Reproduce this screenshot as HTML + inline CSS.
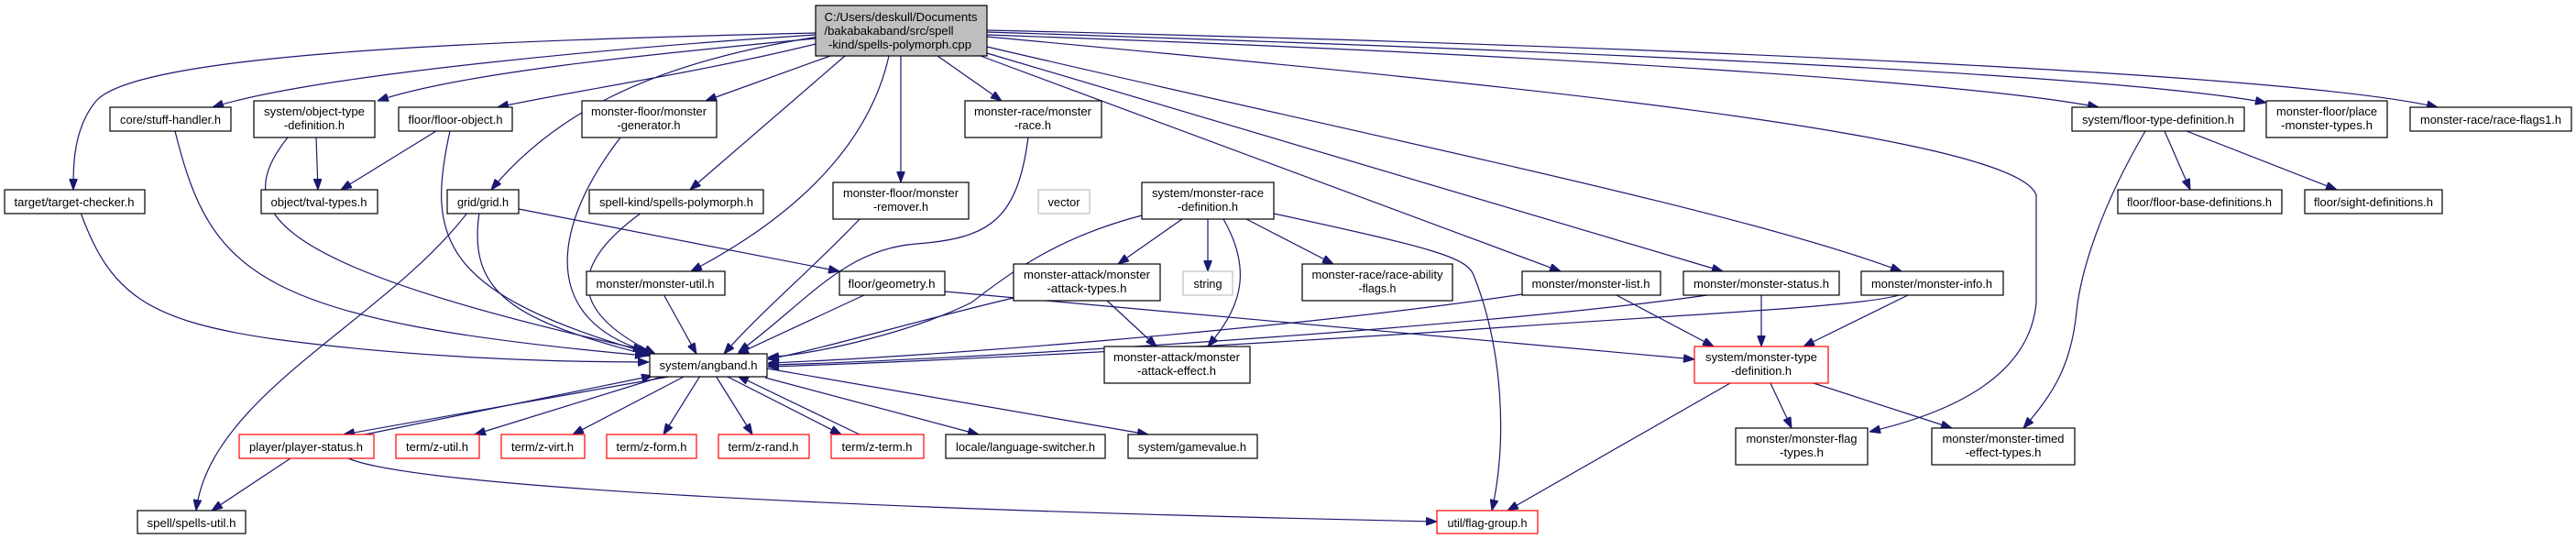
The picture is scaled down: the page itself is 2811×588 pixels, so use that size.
<!DOCTYPE html>
<html><head><meta charset="utf-8"><style>
html,body{margin:0;padding:0;background:#fff;}
svg{display:block;}
text{font-family:"Liberation Sans",Arial,sans-serif;font-size:13px;fill:#000;}
.n{fill:#fff;stroke:#000;stroke-width:1.2;}
.r{fill:#fff;stroke:#ff0000;stroke-width:1.2;}
.g{fill:#fff;stroke:#bfbfbf;stroke-width:1.2;}
.e{fill:none;stroke:#191970;stroke-width:1.2;marker-end:url(#a);}
</style></head><body>
<svg width="2811" height="588" viewBox="0 0 2811 588" xmlns="http://www.w3.org/2000/svg">
<defs><marker id="a" markerUnits="userSpaceOnUse" markerWidth="12" markerHeight="9" refX="12" refY="4.5" orient="auto"><path d="M0,0 L12,4.5 L0,9 z" fill="#191970" stroke="#191970"/></marker></defs>
<g>
<path class="e" d="M890,36 C500,45 150,60 105,110 C80,140 80,180 80,207"/>
<path class="e" d="M890,38 C700,50 350,80 232,117"/>
<path class="e" d="M890,42 C700,60 500,80 412,110"/>
<path class="e" d="M890,48 C760,80 620,100 543,117"/>
<path class="e" d="M893,40 C700,70 600,130 536,207"/>
<path class="e" d="M906,61 L770,110"/>
<path class="e" d="M922,61 L753,207"/>
<path class="e" d="M970,61 C950,150 880,230 754,296"/>
<path class="e" d="M983,61 L983,199"/>
<path class="e" d="M1023,61 L1093,110"/>
<path class="e" d="M1070,61 L1703,296"/>
<path class="e" d="M1077,58 L1880,296"/>
<path class="e" d="M1077,51 C1500,150 1900,230 2075,296"/>
<path class="e" d="M1077,40 C1500,80 2200,140 2222,213 L2222,330 C2215,410 2130,450 2040,471"/>
<path class="e" d="M1077,33 C1800,50 2500,80 2660,117"/>
<path class="e" d="M1077,35 C1700,55 2300,80 2473,112"/>
<path class="e" d="M1077,38 C1700,60 2150,90 2290,117"/>
<path class="e" d="M345,150 L347,207"/>
<path class="e" d="M476,143 L372,207"/>
<path class="e" d="M491,143 C465,260 480,320 707,385"/>
<path class="e" d="M191,143 C230,300 280,350 705,388"/>
<path class="e" d="M314,150 C250,230 290,290 703,382"/>
<path class="e" d="M88,232 C120,320 160,350 300,370 C450,390 600,395 708,395"/>
<path class="e" d="M510,232 C420,350 230,430 214,557"/>
<path class="e" d="M523,232 C510,320 560,350 710,388"/>
<path class="e" d="M566,228 L916,296"/>
<path class="e" d="M677,150 C600,250 590,350 708,384"/>
<path class="e" d="M700,232 C620,290 620,340 715,386"/>
<path class="e" d="M938,239 C890,290 830,340 790,386"/>
<path class="e" d="M724,321 L760,386"/>
<path class="e" d="M945,321 L805,386"/>
<path class="e" d="M1122,150 C1110,240 1080,260 1000,266 C920,272 880,330 806,384"/>
<path class="e" d="M1246,235 C1150,260 1100,300 1060,330 C1000,360 900,385 838,390"/>
<path class="e" d="M1106,325 C1000,350 900,380 838,392"/>
<path class="e" d="M1661,321 C1400,360 1000,390 838,396"/>
<path class="e" d="M1870,321 C1600,360 1000,395 838,398"/>
<path class="e" d="M2075,321 C2040,335 1800,345 1600,360 C1300,380 1000,395 838,400"/>
<path class="e" d="M1031,318 L1849,392"/>
<path class="e" d="M1290,239 L1220,288"/>
<path class="e" d="M1318,239 L1318,296"/>
<path class="e" d="M1360,239 L1455,288"/>
<path class="e" d="M1335,239 C1370,300 1350,340 1318,378"/>
<path class="e" d="M1390,233 C1560,270 1600,280 1608,300 C1640,380 1645,480 1628,557"/>
<path class="e" d="M1208,328 L1262,378"/>
<path class="e" d="M1762,321 L1870,378"/>
<path class="e" d="M1922,321 L1922,378"/>
<path class="e" d="M2084,321 L1968,378"/>
<path class="e" d="M1888,418 L1645,557"/>
<path class="e" d="M1932,418 L1955,467"/>
<path class="e" d="M1979,418 L2130,467"/>
<path class="e" d="M2341,143 C2290,230 2270,300 2266,340 C2260,400 2240,430 2208,467"/>
<path class="e" d="M2362,143 L2390,207"/>
<path class="e" d="M2386,143 L2550,207"/>
<path class="e" d="M735,410 L375,474"/>
<path class="e" d="M398,474 L712,410"/>
<path class="e" d="M725,410 L518,474"/>
<path class="e" d="M748,410 L625,474"/>
<path class="e" d="M764,410 L724,474"/>
<path class="e" d="M781,410 L821,474"/>
<path class="e" d="M792,410 L918,474"/>
<path class="e" d="M938,474 L805,410"/>
<path class="e" d="M835,412 L1068,474"/>
<path class="e" d="M837,402 L1253,474"/>
<path class="e" d="M317,500 L231,557"/>
<path class="e" d="M380,500 C450,530 900,555 1568,569"/>
</g>
<g text-anchor="middle">
<rect x="890" y="6" width="187" height="55" fill="#bfbfbf" stroke="#000" stroke-width="1.2"/>
<text x="983" y="23" textLength="167" lengthAdjust="spacingAndGlyphs">C:/Users/deskull/Documents</text>
<text x="970" y="38" textLength="141" lengthAdjust="spacingAndGlyphs">/bakabakaband/src/spell</text>
<text x="982" y="53" textLength="156" lengthAdjust="spacingAndGlyphs">-kind/spells-polymorph.cpp</text>

<rect class="n" x="120" y="117" width="132" height="26"/><text x="186" y="135" textLength="110" lengthAdjust="spacingAndGlyphs">core/stuff-handler.h</text>
<rect class="n" x="277" y="110" width="132" height="40"/><text x="343" y="126" textLength="110" lengthAdjust="spacingAndGlyphs">system/object-type</text><text x="343" y="141" textLength="66" lengthAdjust="spacingAndGlyphs">-definition.h</text>
<rect class="n" x="435" y="117" width="124" height="26"/><text x="497" y="135" textLength="103" lengthAdjust="spacingAndGlyphs">floor/floor-object.h</text>
<rect class="n" x="635" y="110" width="147" height="40"/><text x="708" y="126" textLength="126" lengthAdjust="spacingAndGlyphs">monster-floor/monster</text><text x="708" y="141" textLength="69" lengthAdjust="spacingAndGlyphs">-generator.h</text>
<rect class="n" x="5" y="207" width="153" height="26"/><text x="81" y="225" textLength="131" lengthAdjust="spacingAndGlyphs">target/target-checker.h</text>
<rect class="n" x="285" y="207" width="127" height="26"/><text x="348" y="225" textLength="105" lengthAdjust="spacingAndGlyphs">object/tval-types.h</text>
<rect class="n" x="488" y="207" width="78" height="26"/><text x="527" y="225" textLength="56" lengthAdjust="spacingAndGlyphs">grid/grid.h</text>
<rect class="n" x="643" y="207" width="190" height="26"/><text x="738" y="225" textLength="168" lengthAdjust="spacingAndGlyphs">spell-kind/spells-polymorph.h</text>
<rect class="n" x="909" y="199" width="148" height="40"/><text x="983" y="215" textLength="126" lengthAdjust="spacingAndGlyphs">monster-floor/monster</text><text x="983" y="230" textLength="60" lengthAdjust="spacingAndGlyphs">-remover.h</text>
<rect class="n" x="640" y="296" width="151" height="26"/><text x="715" y="314" textLength="129" lengthAdjust="spacingAndGlyphs">monster/monster-util.h</text>
<rect class="n" x="916" y="296" width="115" height="26"/><text x="973" y="314" textLength="95" lengthAdjust="spacingAndGlyphs">floor/geometry.h</text>
<rect class="n" x="709" y="386" width="128" height="25"/><text x="773" y="403" textLength="107" lengthAdjust="spacingAndGlyphs">system/angband.h</text>
<rect class="r" x="261" y="474" width="147" height="26"/><text x="334" y="492" textLength="124" lengthAdjust="spacingAndGlyphs">player/player-status.h</text>
<rect class="r" x="432" y="474" width="91" height="26"/><text x="477" y="492" textLength="68" lengthAdjust="spacingAndGlyphs">term/z-util.h</text>
<rect class="r" x="547" y="474" width="91" height="26"/><text x="592" y="492" textLength="68" lengthAdjust="spacingAndGlyphs">term/z-virt.h</text>
<rect class="r" x="662" y="474" width="98" height="26"/><text x="711" y="492" textLength="77" lengthAdjust="spacingAndGlyphs">term/z-form.h</text>
<rect class="r" x="784" y="474" width="99" height="26"/><text x="833" y="492" textLength="77" lengthAdjust="spacingAndGlyphs">term/z-rand.h</text>
<rect class="r" x="907" y="474" width="101" height="26"/><text x="957" y="492" textLength="77" lengthAdjust="spacingAndGlyphs">term/z-term.h</text>
<rect class="n" x="150" y="557" width="118" height="25"/><text x="209" y="575" textLength="97" lengthAdjust="spacingAndGlyphs">spell/spells-util.h</text>
<rect class="n" x="1053" y="110" width="149" height="40"/><text x="1127" y="126" textLength="128" lengthAdjust="spacingAndGlyphs">monster-race/monster</text><text x="1127" y="141" textLength="40" lengthAdjust="spacingAndGlyphs">-race.h</text>
<rect class="g" x="1133" y="207" width="56" height="26"/><text x="1161" y="225" textLength="35" lengthAdjust="spacingAndGlyphs">vector</text>
<rect class="n" x="1246" y="199" width="144" height="40"/><text x="1318" y="215" textLength="122" lengthAdjust="spacingAndGlyphs">system/monster-race</text><text x="1318" y="230" textLength="66" lengthAdjust="spacingAndGlyphs">-definition.h</text>
<rect class="n" x="1106" y="288" width="160" height="40"/><text x="1186" y="304" textLength="138" lengthAdjust="spacingAndGlyphs">monster-attack/monster</text><text x="1186" y="319" textLength="87" lengthAdjust="spacingAndGlyphs">-attack-types.h</text>
<rect class="g" x="1291" y="296" width="54" height="26"/><text x="1318" y="314" textLength="31" lengthAdjust="spacingAndGlyphs">string</text>
<rect class="n" x="1421" y="288" width="164" height="40"/><text x="1503" y="304" textLength="143" lengthAdjust="spacingAndGlyphs">monster-race/race-ability</text><text x="1503" y="319" textLength="41" lengthAdjust="spacingAndGlyphs">-flags.h</text>
<rect class="n" x="1661" y="296" width="151" height="26"/><text x="1736" y="314" textLength="129" lengthAdjust="spacingAndGlyphs">monster/monster-list.h</text>
<rect class="n" x="1837" y="296" width="170" height="26"/><text x="1922" y="314" textLength="148" lengthAdjust="spacingAndGlyphs">monster/monster-status.h</text>
<rect class="n" x="2031" y="296" width="155" height="26"/><text x="2108" y="314" textLength="132" lengthAdjust="spacingAndGlyphs">monster/monster-info.h</text>
<rect class="n" x="1205" y="378" width="159" height="40"/><text x="1284" y="394" textLength="138" lengthAdjust="spacingAndGlyphs">monster-attack/monster</text><text x="1284" y="409" textLength="86" lengthAdjust="spacingAndGlyphs">-attack-effect.h</text>
<rect class="r" x="1849" y="378" width="146" height="40"/><text x="1922" y="394" textLength="122" lengthAdjust="spacingAndGlyphs">system/monster-type</text><text x="1922" y="409" textLength="66" lengthAdjust="spacingAndGlyphs">-definition.h</text>
<rect class="n" x="1032" y="474" width="174" height="26"/><text x="1119" y="492" textLength="152" lengthAdjust="spacingAndGlyphs">locale/language-switcher.h</text>
<rect class="n" x="1231" y="474" width="141" height="26"/><text x="1301" y="492" textLength="118" lengthAdjust="spacingAndGlyphs">system/gamevalue.h</text>
<rect class="r" x="1568" y="557" width="110" height="25"/><text x="1623" y="575" textLength="87" lengthAdjust="spacingAndGlyphs">util/flag-group.h</text>
<rect class="n" x="1894" y="467" width="144" height="40"/><text x="1966" y="483" textLength="121" lengthAdjust="spacingAndGlyphs">monster/monster-flag</text><text x="1966" y="498" textLength="48" lengthAdjust="spacingAndGlyphs">-types.h</text>
<rect class="n" x="2108" y="467" width="156" height="40"/><text x="2186" y="483" textLength="133" lengthAdjust="spacingAndGlyphs">monster/monster-timed</text><text x="2186" y="498" textLength="83" lengthAdjust="spacingAndGlyphs">-effect-types.h</text>
<rect class="n" x="2261" y="117" width="188" height="26"/><text x="2355" y="135" textLength="166" lengthAdjust="spacingAndGlyphs">system/floor-type-definition.h</text>
<rect class="n" x="2473" y="110" width="132" height="40"/><text x="2539" y="126" textLength="110" lengthAdjust="spacingAndGlyphs">monster-floor/place</text><text x="2539" y="141" textLength="100" lengthAdjust="spacingAndGlyphs">-monster-types.h</text>
<rect class="n" x="2630" y="117" width="176" height="26"/><text x="2718" y="135" textLength="154" lengthAdjust="spacingAndGlyphs">monster-race/race-flags1.h</text>
<rect class="n" x="2311" y="207" width="179" height="26"/><text x="2400" y="225" textLength="158" lengthAdjust="spacingAndGlyphs">floor/floor-base-definitions.h</text>
<rect class="n" x="2515" y="207" width="150" height="26"/><text x="2590" y="225" textLength="130" lengthAdjust="spacingAndGlyphs">floor/sight-definitions.h</text>
</g>
</svg>
</body></html>
